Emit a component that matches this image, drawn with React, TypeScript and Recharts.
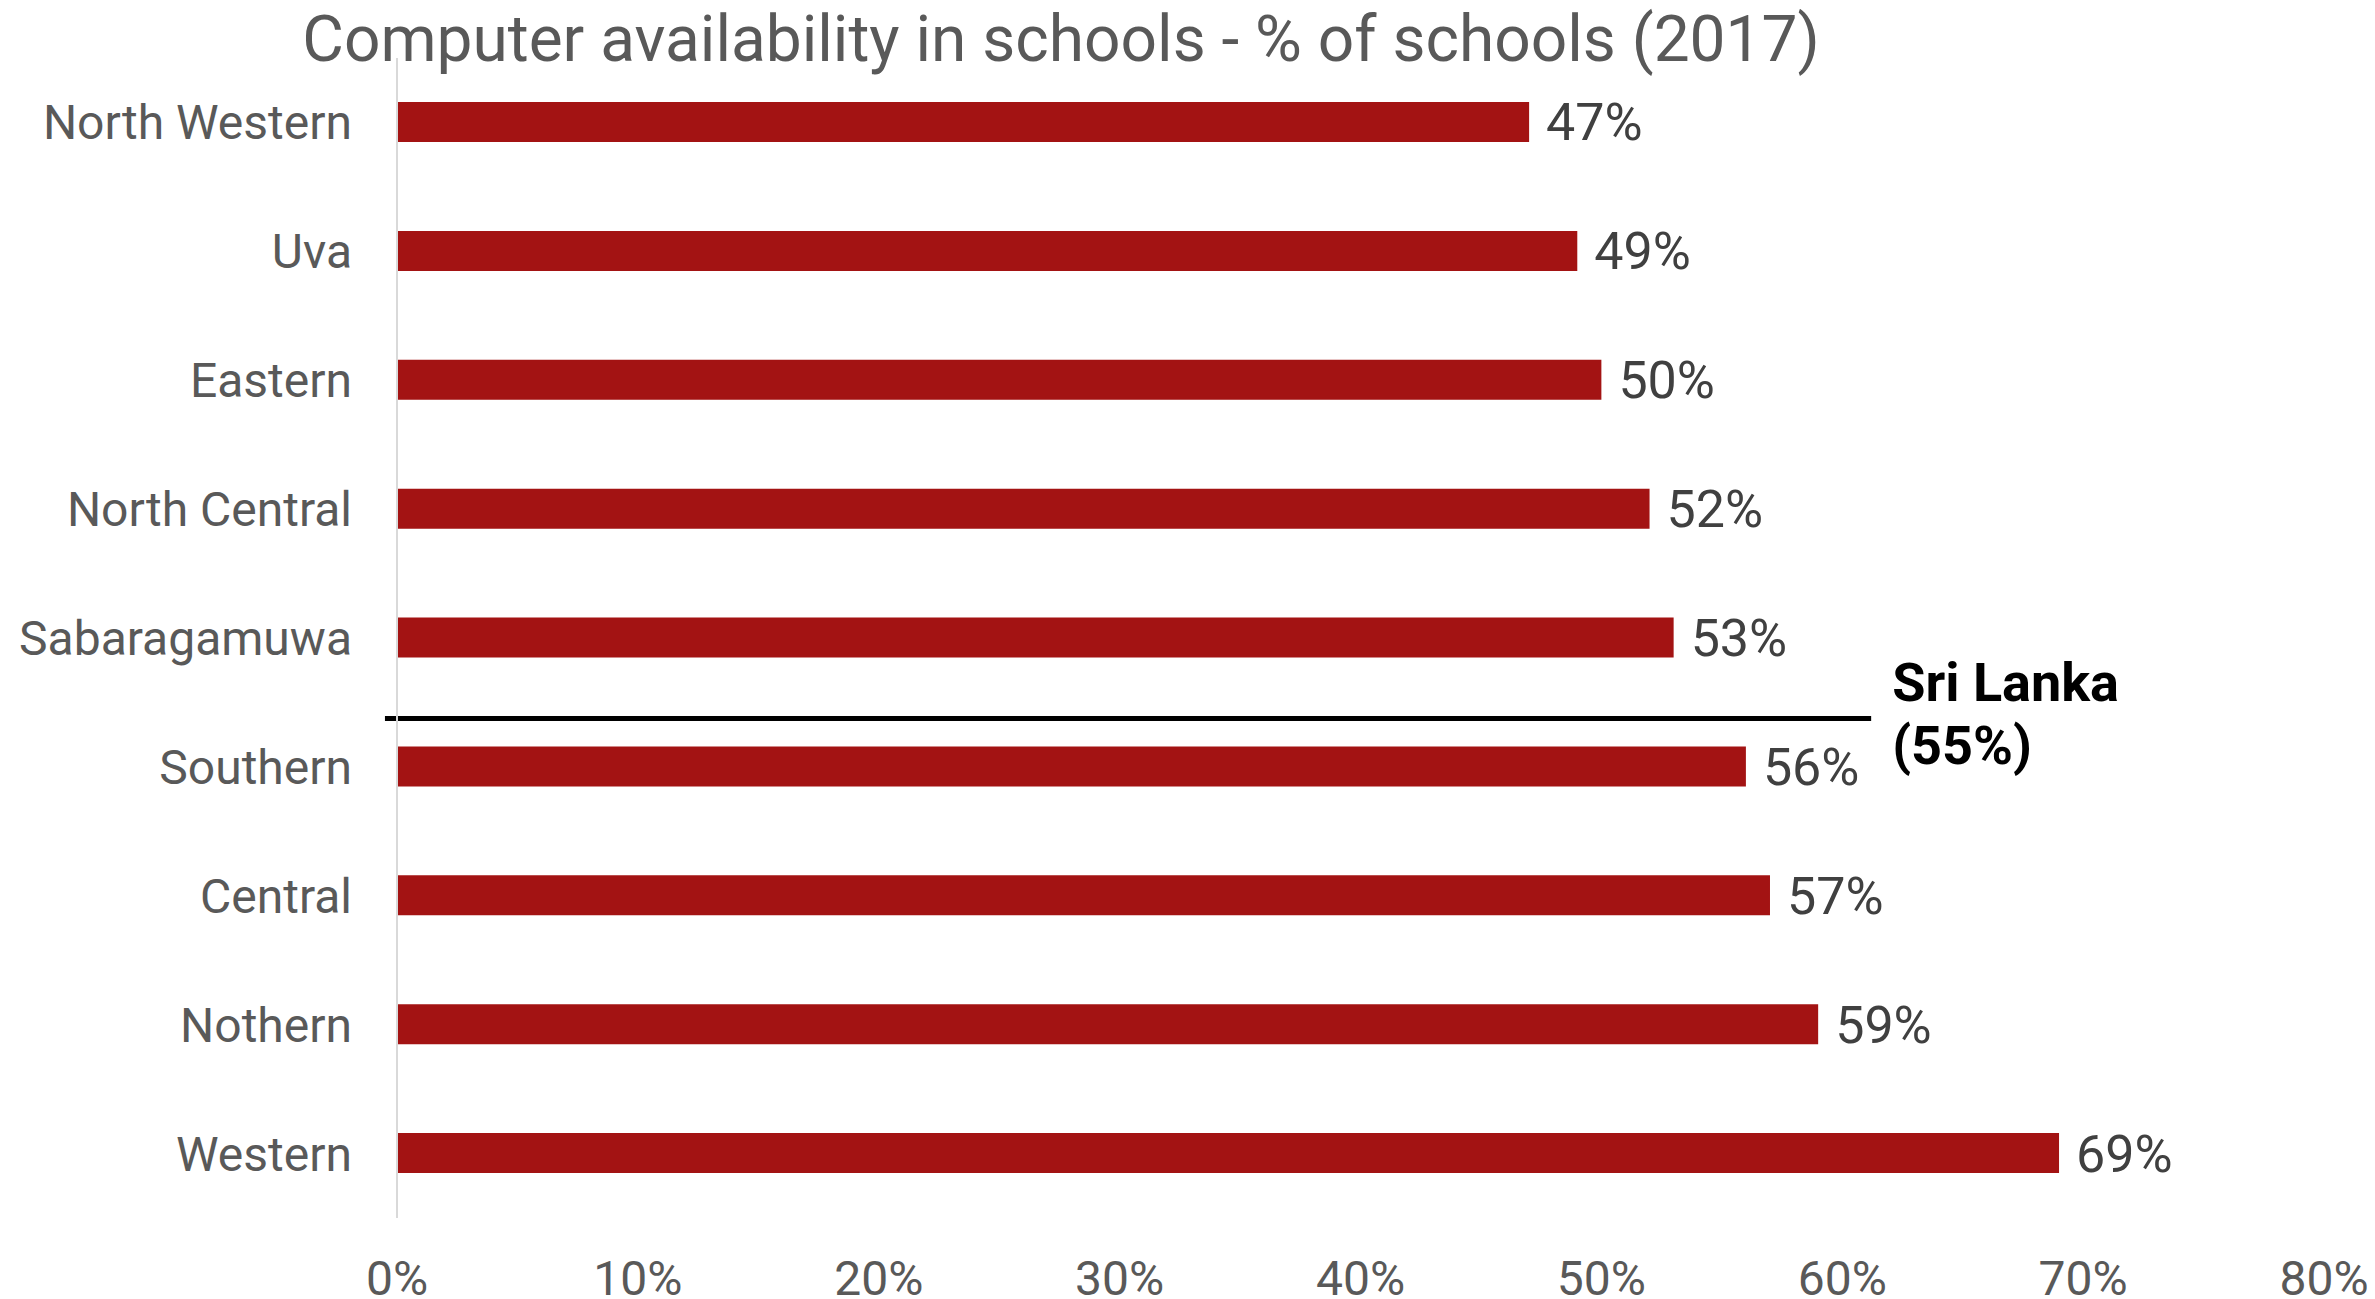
import { Bar, BarChart, LabelList, ReferenceLine, XAxis, YAxis } from 'recharts'

const regions = [
  'North Western',
  'Uva',
  'Eastern',
  'North Central',
  'Sabaragamuwa',
  'Southern',
  'Central',
  'Nothern',
  'Western',
]
const computerShare = [47, 49, 50, 52, 53, 56, 57, 59, 69]
const xTicks = [0, 10, 20, 30, 40, 50, 60, 70, 80]
const nationalName = 'Sri Lanka'
const nationalShare = 55

const W = 2375
const H = 1299
const FONT = 'Roboto, "Noto Sans", sans-serif'
const LINE_DROP = 16 // the line sits a little below the row boundary

const data = regions.map((region, i) => ({ region, value: computerShare[i] }))

// the national line sits at the top of the first region above the average
const firstAbove = regions[computerShare.filter((v) => v < nationalShare).length]

function NationalLabel(props: any) {
  const vb = props.viewBox ?? {}
  const x = (vb.x ?? 0) + (vb.width ?? 0) + 21
  const y = (vb.y ?? 0) + LINE_DROP
  return (
    <text x={x} fontFamily={FONT} fontSize={54} fontWeight={700} fill="#000">
      <tspan x={x} y={y - 17}>{nationalName}</tspan>
      <tspan x={x} y={y + 46}>({nationalShare}%)</tspan>
    </text>
  )
}

function NationalLine(p: any) {
  return (
    <line
      x1={p.x1}
      y1={p.y1 + LINE_DROP}
      x2={p.x2}
      y2={p.y2 + LINE_DROP}
      stroke="#000"
      strokeWidth={5}
    />
  )
}

export default function App() {
  return (
    <div style={{ position: 'absolute', left: 0, top: 0, width: W, height: H, background: '#fff', fontFamily: FONT }}>
      <div
        style={{
          position: 'absolute',
          left: 0,
          top: 8,
          width: 2122,
          textAlign: 'center',
          fontSize: 64,
          lineHeight: '64px',
          color: '#595959',
          whiteSpace: 'nowrap',
          zIndex: 1,
        }}
      >
        Computer availability in schools - % of schools (2017)
      </div>
      <BarChart
        width={W}
        height={H}
        data={data}
        layout="vertical"
        margin={{ top: 58, right: 51, bottom: 0, left: 0 }}
      >
        <XAxis
          type="number"
          domain={[0, 80]}
          ticks={xTicks}
          interval={0}
          axisLine={false}
          tickLine={false}
          tickSize={0}
          tickMargin={43}
          height={81}
          tickFormatter={(v: number) => `${v}%`}
          tick={{ fill: '#595959', fontSize: 48, fontFamily: FONT }}
        />
        <YAxis
          type="category"
          dataKey="region"
          width={397}
          axisLine={{ stroke: '#d9d9d9', strokeWidth: 2 }}
          tickLine={false}
          tickSize={0}
          tickMargin={45}
          interval={0}
          tick={{ fill: '#595959', fontSize: 48, fontFamily: FONT }}
        />
        <Bar dataKey="value" fill="#a31313" barSize={40} isAnimationActive={false}>
          <LabelList
            dataKey="value"
            position="right"
            offset={17}
            formatter={(v: any) => `${v}%`}
            fill="#404040"
            fontSize={52}
            fontFamily={FONT}
          />
        </Bar>
        <ReferenceLine
          segment={[
            { x: -0.5, y: firstAbove },
            { x: 61.2, y: firstAbove },
          ]}
          position="start"
          ifOverflow="visible"
          shape={(p: any) => <NationalLine {...p} />}
          label={(props: any) => <NationalLabel {...props} />}
        />
      </BarChart>
    </div>
  )
}
